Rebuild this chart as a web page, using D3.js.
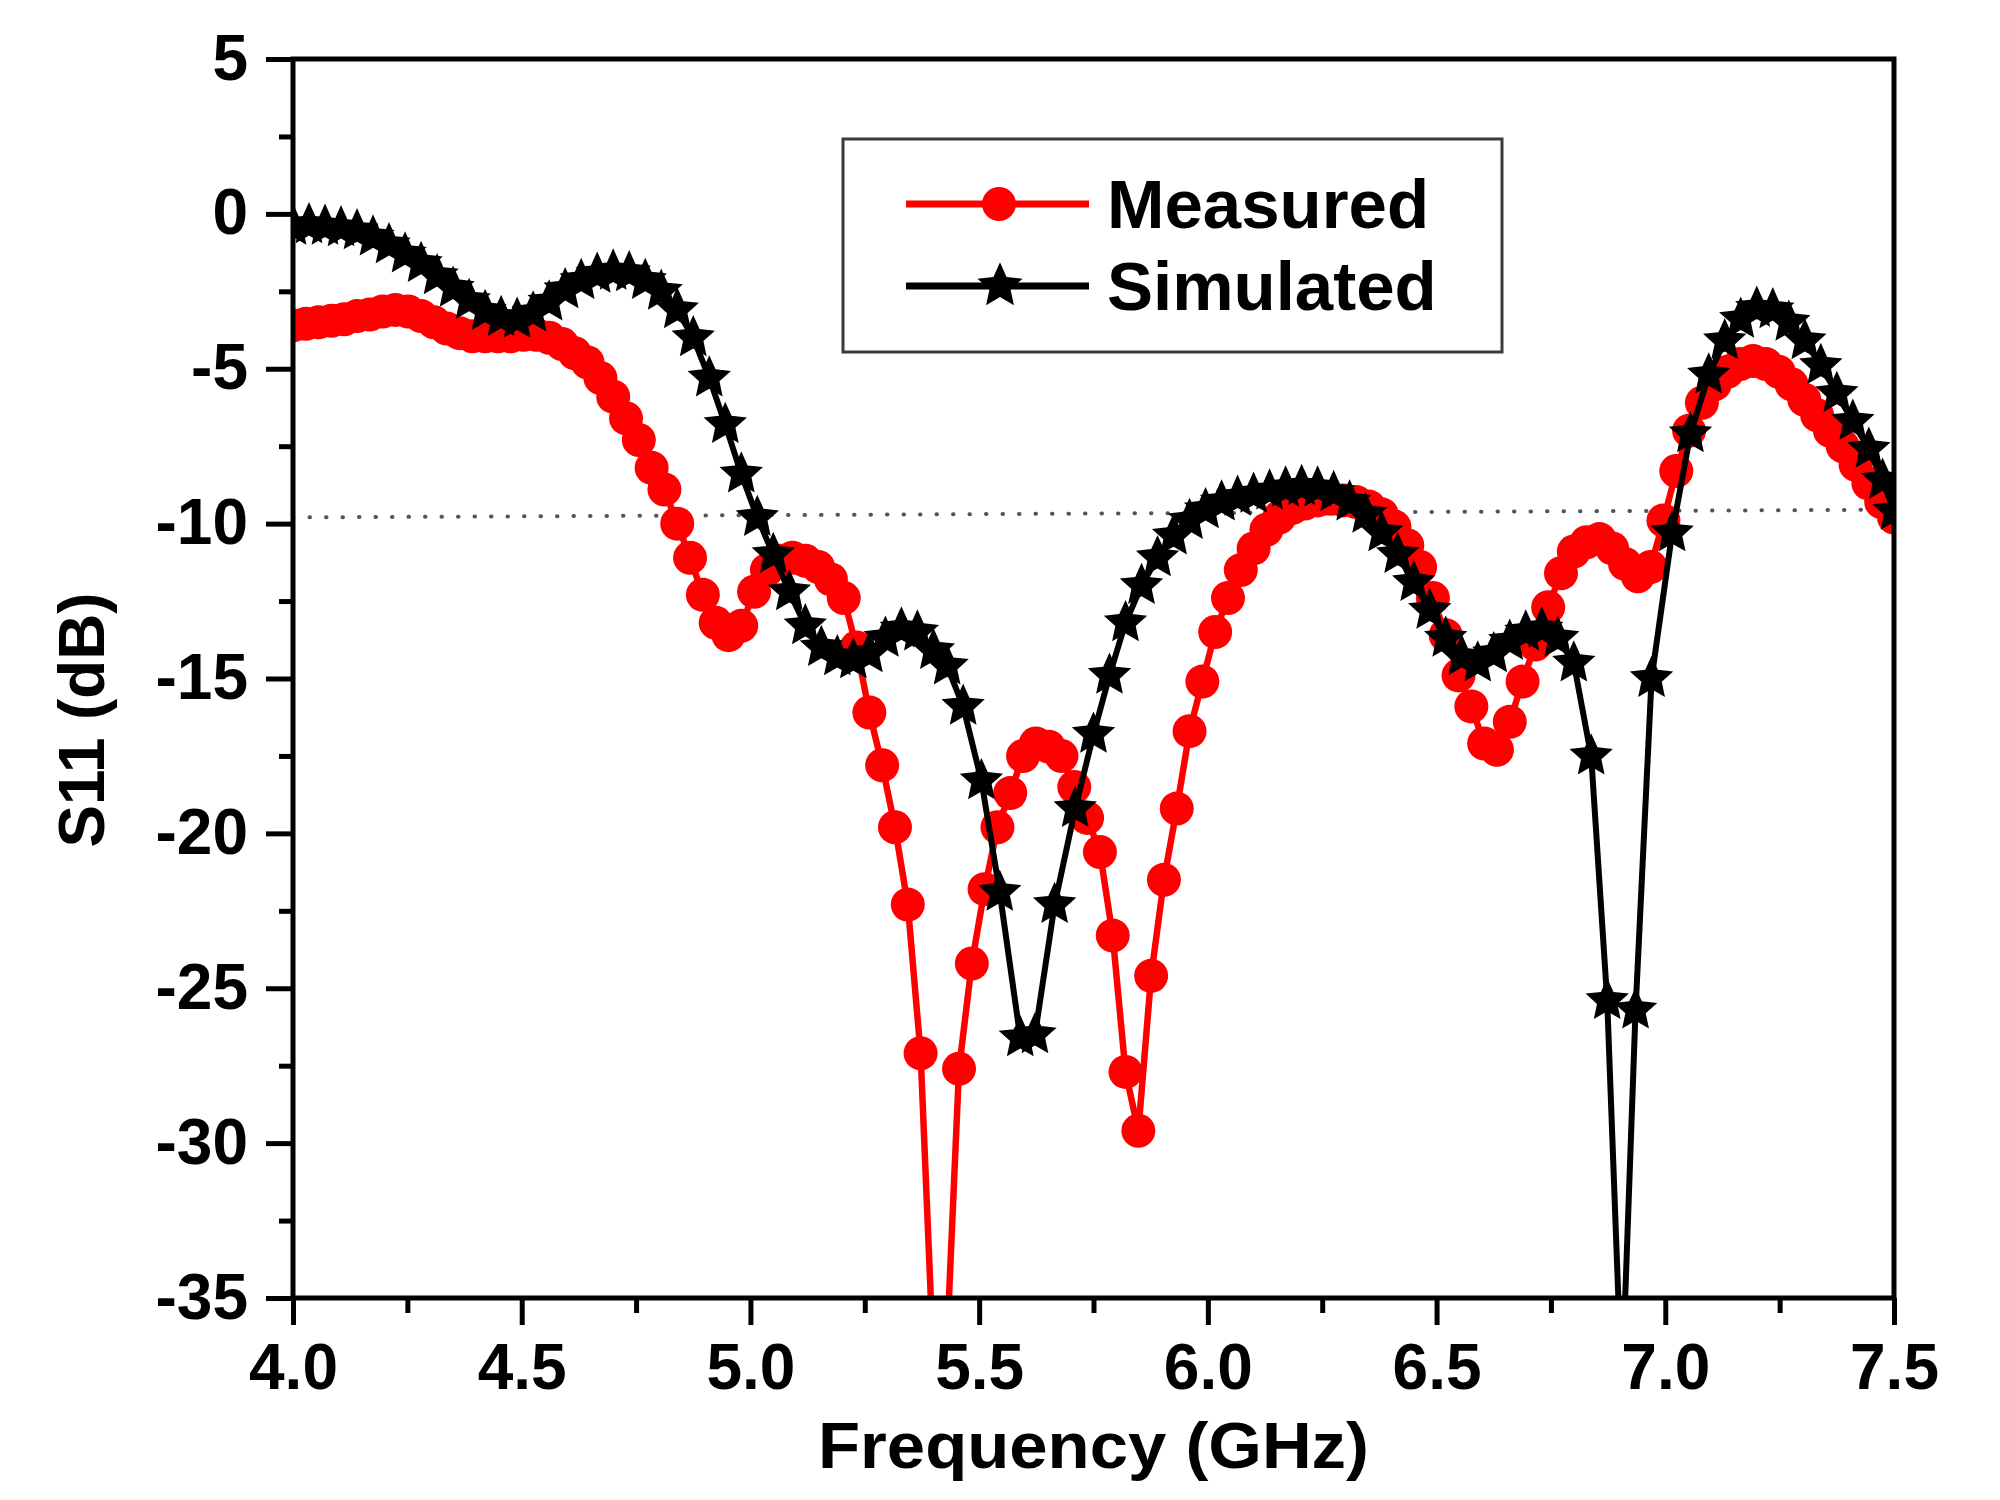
<!DOCTYPE html>
<html>
<head>
<meta charset="utf-8">
<script src="https://cdn.jsdelivr.net/npm/d3@7"></script>
<style>
  html, body { margin: 0; padding: 0; background: #fff; }
  svg { display: block; }
  text { font-family: "Liberation Sans", Arial, sans-serif; font-weight: bold; fill: #000; }
</style>
</head>
<body>
<svg id="chart" width="2000" height="1500"></svg>
<script>
// ---------------- data ----------------
const measFreq = [4.000,4.028,4.056,4.084,4.112,4.140,4.168,4.196,4.224,4.252,
  4.280,4.308,4.336,4.364,4.392,4.420,4.448,4.476,4.504,4.532,
  4.560,4.588,4.616,4.644,4.672,4.700,4.728,4.756,4.784,4.812,
  4.840,4.868,4.896,4.924,4.952,4.980,5.008,5.036,5.064,5.092,
  5.120,5.148,5.176,5.204,5.232,5.260,5.288,5.316,5.344,5.372,
  5.400,5.428,5.456,5.484,5.512,5.540,5.568,5.596,5.624,5.652,
  5.680,5.708,5.736,5.764,5.792,5.820,5.848,5.876,5.904,5.932,
  5.960,5.988,6.016,6.044,6.072,6.100,6.128,6.156,6.184,6.212,
  6.240,6.268,6.296,6.324,6.352,6.380,6.408,6.436,6.464,6.492,
  6.520,6.548,6.576,6.604,6.632,6.660,6.688,6.716,6.744,6.772,
  6.800,6.828,6.856,6.884,6.912,6.940,6.968,6.996,7.024,7.052,
  7.080,7.108,7.136,7.164,7.192,7.220,7.248,7.276,7.304,7.332,
  7.360,7.388,7.416,7.444,7.472,7.500];
const measS11 = [-3.6,-3.55,-3.5,-3.45,-3.4,-3.3,-3.25,-3.15,-3.1,-3.15,
  -3.3,-3.5,-3.7,-3.85,-3.95,-3.95,-3.95,-3.95,-3.9,-3.9,
  -4.0,-4.2,-4.5,-4.8,-5.3,-5.9,-6.6,-7.3,-8.2,-8.9,
  -10.0,-11.1,-12.3,-13.2,-13.6,-13.3,-12.2,-11.5,-11.2,-11.1,
  -11.2,-11.4,-11.8,-12.4,-14.0,-16.1,-17.8,-19.8,-22.3,-27.1,
  -37,-37,-27.6,-24.2,-21.8,-19.8,-18.7,-17.5,-17.1,-17.2,
  -17.5,-18.5,-19.5,-20.6,-23.3,-27.7,-29.6,-24.6,-21.5,-19.2,
  -16.7,-15.1,-13.5,-12.4,-11.5,-10.8,-10.2,-9.8,-9.5,-9.35,
  -9.25,-9.2,-9.25,-9.3,-9.45,-9.7,-10.1,-10.7,-11.4,-12.4,
  -13.6,-14.9,-15.9,-17.1,-17.3,-16.4,-15.1,-13.9,-12.7,-11.6,
  -10.9,-10.6,-10.5,-10.8,-11.3,-11.7,-11.4,-9.9,-8.3,-7.0,
  -6.1,-5.5,-5.1,-4.85,-4.75,-4.85,-5.1,-5.5,-6.0,-6.5,
  -7.0,-7.5,-8.1,-8.7,-9.3,-9.8];

const simFreq = [4.000,4.035,4.070,4.105,4.140,4.175,4.210,4.245,4.280,4.315,
  4.350,4.385,4.420,4.455,4.490,4.525,4.560,4.595,4.630,4.665,
  4.700,4.735,4.770,4.805,4.840,4.875,4.910,4.945,4.980,5.015,
  5.050,5.085,5.120,5.155,5.190,5.225,5.260,5.295,5.330,5.365,
  5.400,5.430,5.465,5.505,5.545,5.590,5.622,5.665,5.710,5.750,
  5.785,5.820,5.855,5.890,5.925,5.960,5.995,6.030,6.065,6.100,
  6.135,6.170,6.205,6.240,6.275,6.310,6.345,6.380,6.415,6.450,
  6.485,6.520,6.555,6.590,6.625,6.660,6.695,6.730,6.765,6.800,
  6.838,6.873,6.905,6.935,6.970,7.015,7.055,7.095,7.130,7.165,
  7.200,7.235,7.270,7.305,7.340,7.375,7.410,7.445,7.475,7.500];
const simS11 = [-0.4,-0.35,-0.4,-0.45,-0.55,-0.75,-1.0,-1.3,-1.6,-2.0,
  -2.4,-2.8,-3.15,-3.35,-3.4,-3.2,-2.85,-2.45,-2.15,-1.95,
  -1.85,-1.9,-2.15,-2.5,-3.1,-4.0,-5.3,-6.8,-8.4,-9.8,
  -11.0,-12.2,-13.3,-14.0,-14.3,-14.4,-14.2,-13.7,-13.4,-13.5,
  -14.1,-14.6,-15.9,-18.3,-21.9,-26.6,-26.5,-22.3,-19.2,-16.8,
  -14.9,-13.2,-12.0,-11.1,-10.4,-9.9,-9.55,-9.3,-9.15,-9.05,
  -8.95,-8.85,-8.8,-8.85,-9.0,-9.3,-9.7,-10.3,-11.0,-11.9,
  -12.8,-13.7,-14.3,-14.5,-14.2,-13.8,-13.5,-13.4,-13.7,-14.5,
  -17.5,-25.4,-38,-25.7,-15.0,-10.3,-7.1,-5.2,-4.1,-3.4,
  -3.05,-3.1,-3.5,-4.1,-4.9,-5.8,-6.7,-7.6,-8.6,-9.6];

// -10 dB reference (dotted)
const refFreq = [4.0, 7.5];
const refS11 = [-9.8, -9.55];

const xMajor = [4.0, 4.5, 5.0, 5.5, 6.0, 6.5, 7.0, 7.5];
const xMinor = [4.25, 4.75, 5.25, 5.75, 6.25, 6.75, 7.25];
const yMajor = [5, 0, -5, -10, -15, -20, -25, -30, -35];
const yMinor = [2.5, -2.5, -7.5, -12.5, -17.5, -22.5, -27.5, -32.5];

const seriesNames = ["Measured", "Simulated"];
const xTitle = "Frequency (GHz)";
const yTitle = "S11 (dB)";

// ---------------- layout ----------------
const L = 293, R = 1894, T = 59, B = 1298;
const svg = d3.select("#chart");
const x = d3.scaleLinear().domain([4, 7.5]).range([L, R]);
const y = d3.scaleLinear().domain([-35, 5]).range([B, T]);

// fat five-point star (Origin style)
const fatStar = {
  draw(ctx, size) {
    const r = Math.sqrt(size);
    const ri = r * 0.47;
    for (let k = 0; k < 10; k++) {
      const a = -Math.PI / 2 + k * Math.PI / 5;
      const rr = k % 2 === 0 ? r : ri;
      const px = rr * Math.cos(a), py = rr * Math.sin(a);
      if (k === 0) ctx.moveTo(px, py); else ctx.lineTo(px, py);
    }
    ctx.closePath();
  }
};

svg.append("defs").append("clipPath").attr("id", "plotclip")
  .append("rect").attr("x", L).attr("y", T).attr("width", R - L).attr("height", B - T);

const plot = svg.append("g").attr("clip-path", "url(#plotclip)");

// dotted reference line
const refData = refFreq.map((f, i) => [f, refS11[i]]);
plot.append("path")
  .datum(refData)
  .attr("d", d3.line().x(d => x(d[0])).y(d => y(d[1])))
  .attr("fill", "none")
  .attr("stroke", "#555")
  .attr("stroke-width", 4)
  .attr("stroke-linecap", "round")
  .attr("stroke-dasharray", "0.5,16");

const line = d3.line().x(d => x(d[0])).y(d => y(d[1]));

// measured
const meas = measFreq.map((f, i) => [f, measS11[i]]);
plot.append("path").datum(meas).attr("d", line)
  .attr("fill", "none").attr("stroke", "#ff0000").attr("stroke-width", 6.5)
  .attr("stroke-linejoin", "round");
plot.append("g").selectAll("circle").data(meas).join("circle")
  .attr("cx", d => x(d[0])).attr("cy", d => y(d[1])).attr("r", 17)
  .attr("fill", "#ff0000");

// simulated
const sim = simFreq.map((f, i) => [f, simS11[i]]);
plot.append("path").datum(sim).attr("d", line)
  .attr("fill", "none").attr("stroke", "#000").attr("stroke-width", 6)
  .attr("stroke-linejoin", "round");
const star = d3.symbol(fatStar).size(520);
plot.append("g").selectAll("path").data(sim).join("path")
  .attr("d", star)
  .attr("transform", d => `translate(${x(d[0])},${y(d[1])})`)
  .attr("fill", "#000");

// ---------------- axes ----------------
const axisStyle = g => {
  g.select(".domain").remove();
  g.selectAll(".tick line").attr("stroke", "#000").attr("stroke-width", 5);
};
const fmtY = d => String(d);          // plain hyphen-minus as in the original
const fmtX = d => d.toFixed(1);

svg.append("g").attr("transform", `translate(0,${B})`)
  .call(d3.axisBottom(x).tickValues(xMinor).tickSize(15).tickFormat(""))
  .call(axisStyle);
const xAx = svg.append("g").attr("transform", `translate(0,${B})`)
  .call(d3.axisBottom(x).tickValues(xMajor).tickSize(27).tickFormat(fmtX))
  .call(axisStyle);
xAx.selectAll(".tick text")
  .attr("y", 91).attr("dy", null)
  .attr("font-size", 64).attr("font-family", "Liberation Sans, Arial, sans-serif")
  .attr("font-weight", "bold").attr("fill", "#000");

svg.append("g").attr("transform", `translate(${L},0)`)
  .call(d3.axisLeft(y).tickValues(yMinor).tickSize(14).tickFormat(""))
  .call(axisStyle);
const yAx = svg.append("g").attr("transform", `translate(${L},0)`)
  .call(d3.axisLeft(y).tickValues(yMajor).tickSize(27).tickFormat(fmtY))
  .call(axisStyle);
yAx.selectAll(".tick text")
  .attr("x", -45).attr("dy", 20)
  .attr("font-size", 64).attr("font-family", "Liberation Sans, Arial, sans-serif")
  .attr("font-weight", "bold").attr("fill", "#000");

// frame
svg.append("rect").attr("x", L).attr("y", T).attr("width", R - L).attr("height", B - T)
  .attr("fill", "none").attr("stroke", "#000").attr("stroke-width", 5);

// titles
svg.append("text").attr("x", (L + R) / 2).attr("y", 1468)
  .attr("text-anchor", "middle").attr("font-size", 65)
  .attr("textLength", 551).attr("lengthAdjust", "spacingAndGlyphs").text(xTitle);
svg.append("text").attr("transform", "translate(104,720) rotate(-90)")
  .attr("text-anchor", "middle").attr("font-size", 64)
  .attr("textLength", 255).attr("lengthAdjust", "spacingAndGlyphs").text(yTitle);

// ---------------- legend ----------------
const lg = svg.append("g");
lg.append("rect").attr("x", 843).attr("y", 139).attr("width", 659).attr("height", 213)
  .attr("fill", "#fff").attr("stroke", "#3a3a3a").attr("stroke-width", 3);
const legendRows = [
  { name: seriesNames[0], color: "#ff0000", yy: 204, marker: "circle" },
  { name: seriesNames[1], color: "#000", yy: 286, marker: "star" }
];
legendRows.forEach(r => {
  lg.append("line").attr("x1", 906).attr("x2", 1089).attr("y1", r.yy).attr("y2", r.yy)
    .attr("stroke", r.color).attr("stroke-width", 7);
  if (r.marker === "circle") {
    lg.append("circle").attr("cx", 999).attr("cy", r.yy).attr("r", 17).attr("fill", r.color);
  } else {
    lg.append("path").attr("d", d3.symbol(fatStar).size(560)())
      .attr("transform", `translate(1000,${r.yy})`).attr("fill", r.color);
  }
  lg.append("text").attr("x", 1107).attr("y", r.yy + 24).attr("font-size", 69).text(r.name);
});
</script>
</body>
</html>
